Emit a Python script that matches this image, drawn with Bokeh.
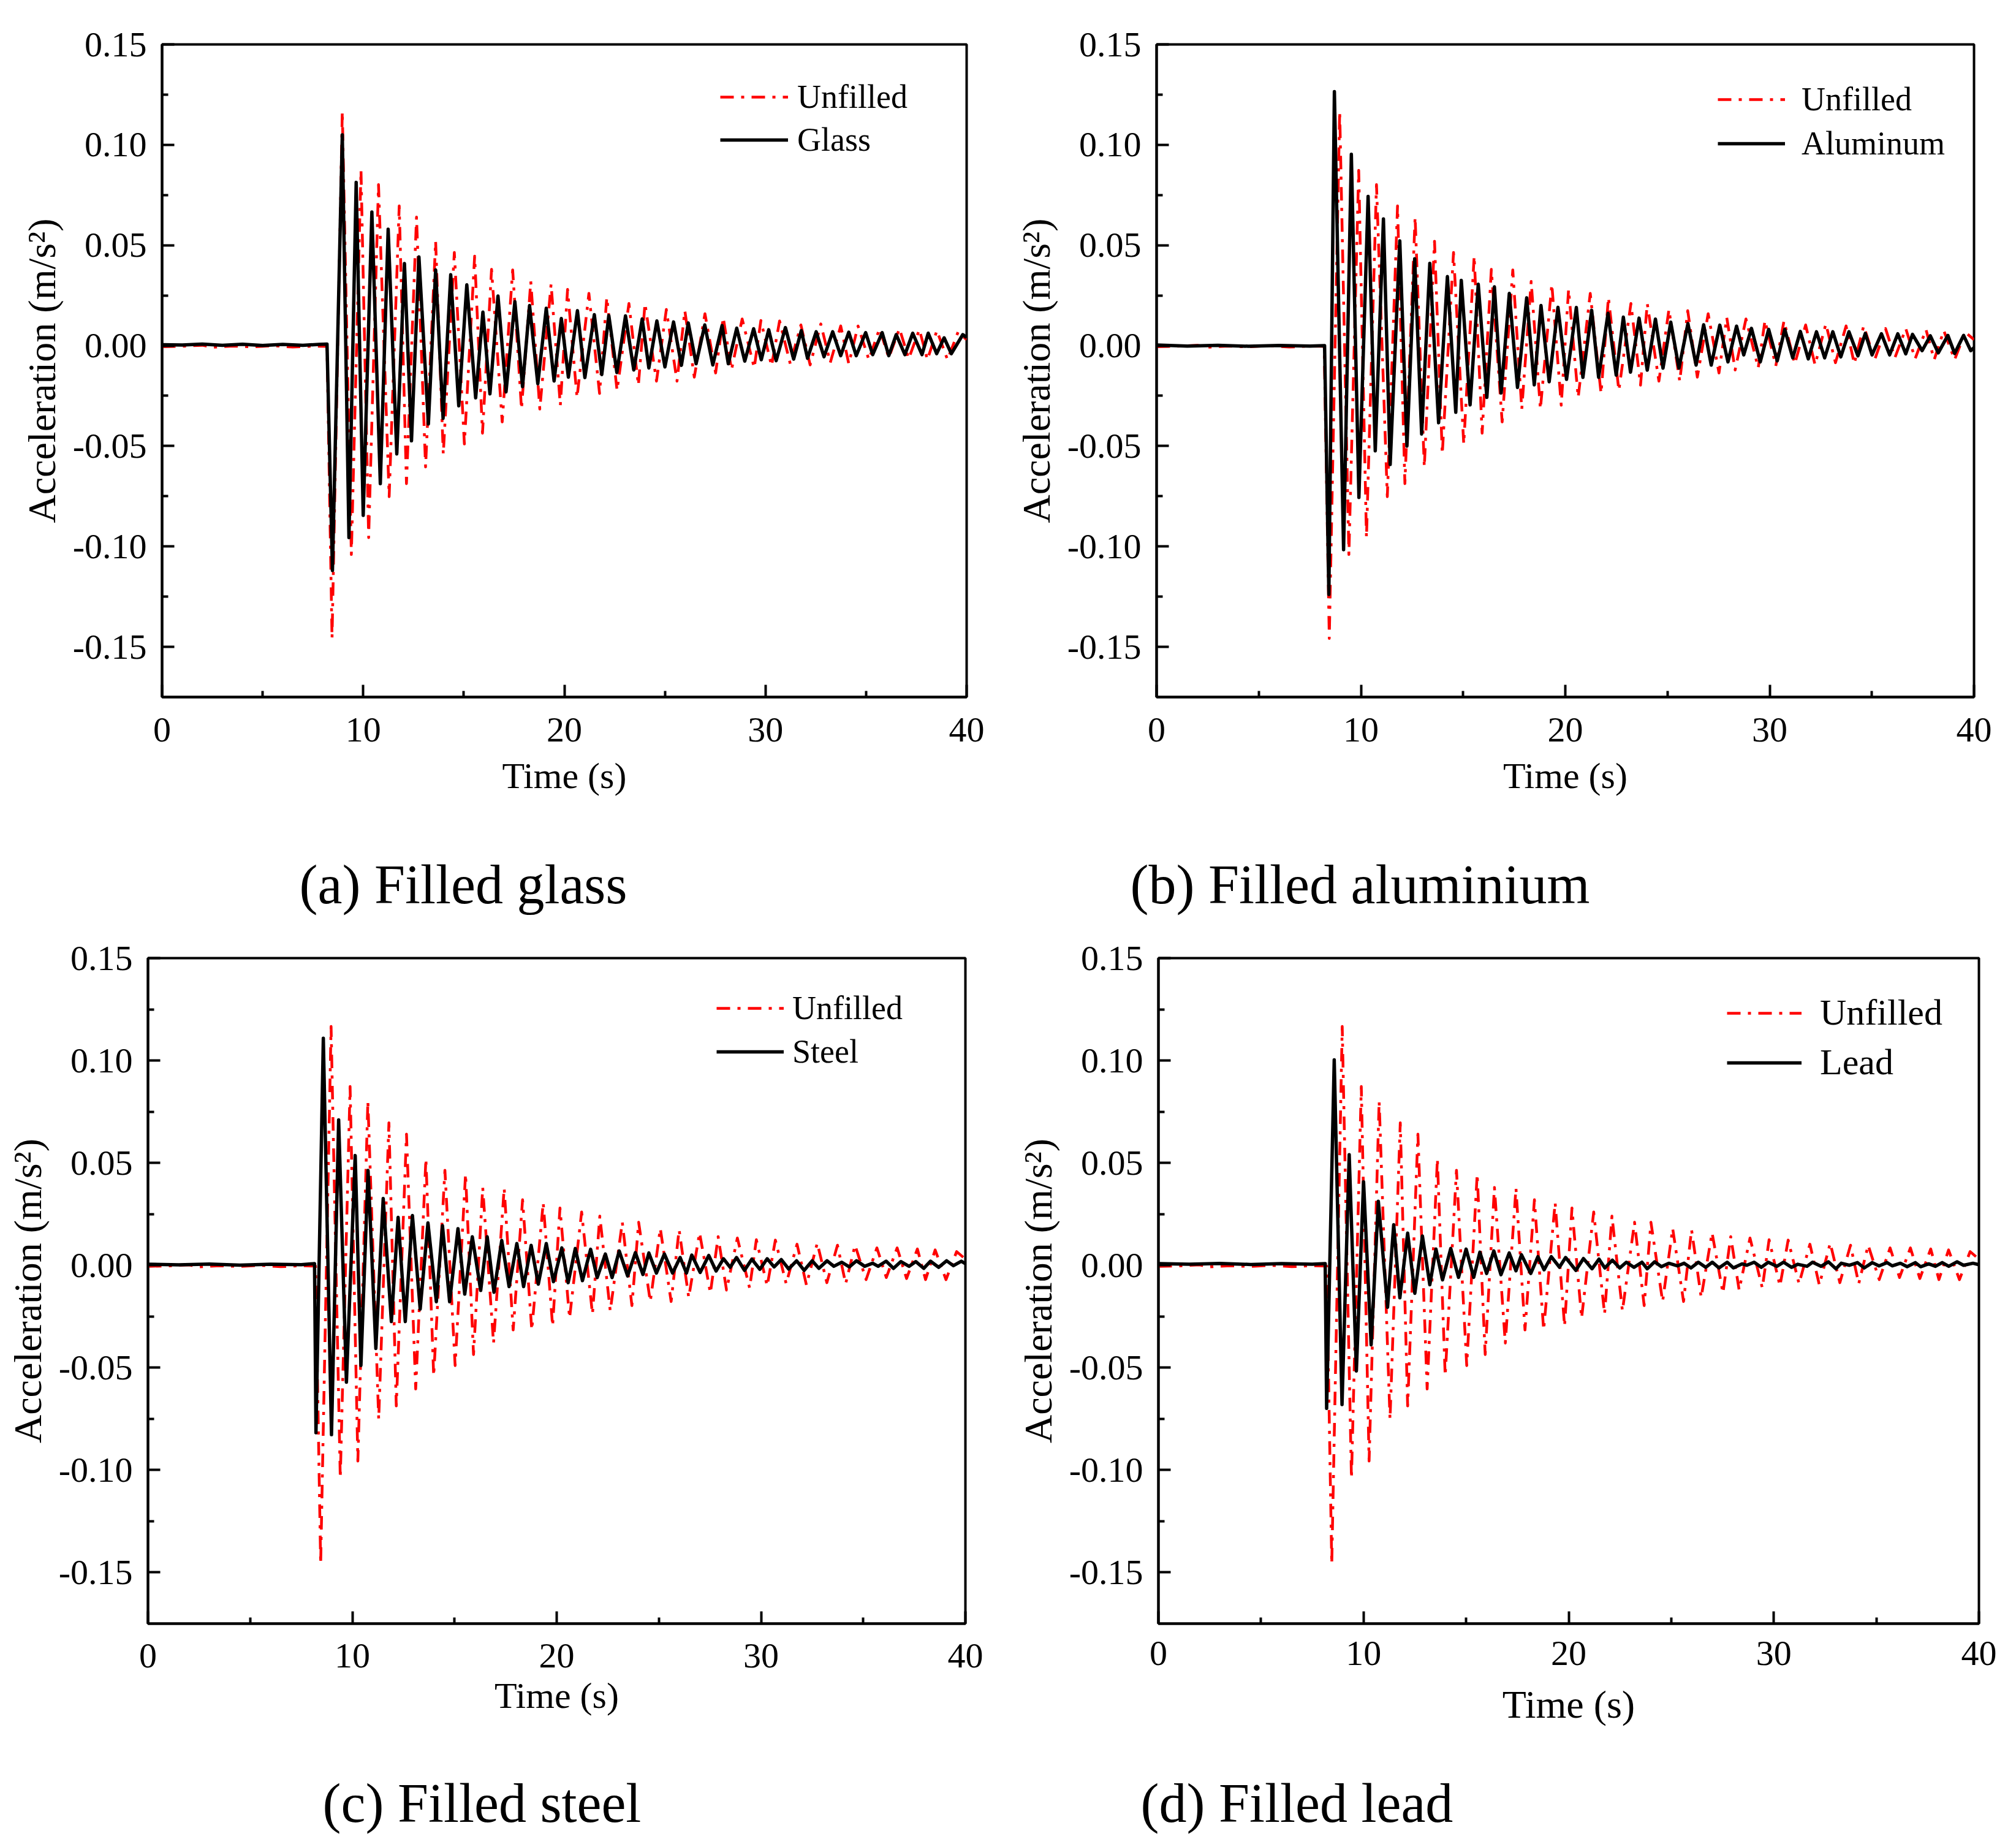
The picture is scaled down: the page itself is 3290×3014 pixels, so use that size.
from bokeh.plotting import figure
from bokeh.models import Range1d, FixedTicker, Legend, LegendItem, Label, NumeralTickFormatter
from bokeh.layouts import row, column
from bokeh.embed import file_html
from bokeh.resources import INLINE

# ---------------- data (extrema) ----------------
unfilled_t = [0, 1, 2, 2.5, 3.5, 4.5, 5.5, 6.5, 7.5, 8.2,
              8.45, 8.96, 9.41, 9.89, 10.27, 10.76, 11.29, 11.79, 12.15, 12.65, 13.1, 13.6,
              13.98, 14.53, 15.03, 15.54, 15.93, 16.38, 16.91, 17.43, 17.87, 18.33, 18.78,
              19.34, 19.8, 20.16, 20.63, 21.22, 21.75, 22.11, 22.62, 23.21, 23.68, 24.01,
              24.58, 25.07, 25.6, 25.99, 26.46, 26.99, 27.52, 27.9, 28.31, 28.84, 29.44,
              29.77, 30.3, 30.7, 31.23, 31.76, 32.22, 32.75, 33.22, 33.74, 34.14, 34.6,
              35.14, 35.67, 36.13, 36.66, 37.12, 37.65, 38.05, 38.52, 39.05, 39.57, 40]
unfilled_a = [-0.0005, -0.0003, 0.0002, -0.0008, -0.0002, -0.0006, 0.0, -0.0007, -0.0002, -0.0004,
              -0.1458, 0.1166, -0.104, 0.0873, -0.0956, 0.0802, -0.0752, 0.0696, -0.0687, 0.064, -0.0604, 0.052,
              -0.054, 0.0464, -0.049, 0.0446, -0.0436, 0.038, -0.038, 0.0377, -0.0316, 0.032, -0.0316,
              0.0306, -0.0297, 0.028, -0.0258, 0.026, -0.0238, 0.024, -0.0223, 0.021, -0.0197, 0.021,
              -0.0177, 0.018, -0.0177, 0.0174, -0.0157, 0.0159, -0.0136, 0.014, -0.0121, 0.0133, -0.0111,
              0.0125, -0.0101, 0.0123, -0.009, 0.0103, -0.0096, 0.0108, -0.0085, 0.0098, -0.009, 0.0098,
              -0.007, 0.0085, -0.006, 0.0085, -0.0065, 0.008, -0.007, 0.0075, -0.007, 0.0067, 0.003]

glass_t = [0, 1, 2, 3, 4, 5, 6, 7, 7.8, 8.2,
           8.47, 8.96, 9.29, 9.65, 10.0, 10.43, 10.85, 11.24, 11.67, 12.05, 12.4, 12.77, 13.24,
           13.6, 13.97, 14.35, 14.75, 15.15, 15.59, 15.95, 16.3, 16.7, 17.1, 17.54, 17.92, 18.27,
           18.68, 19.1, 19.49, 19.85, 20.2, 20.65, 21.02, 21.49, 21.86, 22.21, 22.61, 23.04, 23.45,
           23.87, 24.2, 24.6, 25.0, 25.43, 25.82, 26.16, 26.55, 26.98, 27.38, 27.84, 28.15, 28.57,
           28.97, 29.41, 29.79, 30.16, 30.53, 30.99, 31.4, 31.78, 32.09, 32.52, 32.91, 33.34, 33.74,
           34.14, 34.51, 34.98, 35.33, 35.8, 36.13, 36.5, 36.93, 37.32, 37.78, 38.09, 38.51, 38.88,
           39.24, 39.81, 40]
glass_a = [0.0005, 0.0003, 0.0008, 0.0002, 0.0007, 0.0001, 0.0006, 0.0002, 0.0006, 0.0008,
           -0.112, 0.105, -0.0956, 0.0813, -0.0845, 0.0665, -0.0687, 0.058, -0.0539, 0.0409, -0.0474, 0.0442, -0.039,
           0.0377, -0.0362, 0.0353, -0.030, 0.0303, -0.026, 0.0167, -0.024, 0.0247, -0.023, 0.0219, -0.0204, 0.020,
           -0.019, 0.0186, -0.0176, 0.0135, -0.0157, 0.0174, -0.0159, 0.0154, -0.0144, 0.015, -0.0134, 0.0148, -0.0121,
           0.0133, -0.0111, 0.0123, -0.0106, 0.0118, -0.0098, 0.0113, -0.009, 0.0103, -0.0096, 0.01, -0.009, 0.0087,
           -0.0077, 0.0084, -0.007, 0.0079, -0.0075, 0.009, -0.0067, 0.0075, -0.0063, 0.0069, -0.0055, 0.0069, -0.005,
           0.0067, -0.005, 0.0065, -0.0045, 0.0065, -0.005, 0.0055, -0.0045, 0.0062, -0.0045, 0.0062, -0.004, 0.0039,
           -0.004, 0.0055, 0.004]

aluminum_t = [0, 1.5, 3, 4.5, 6, 7.5, 8.22,
              8.43, 8.70, 9.15, 9.53, 9.9, 10.35, 10.7, 11.1, 11.43, 11.9, 12.25, 12.63, 12.97, 13.37,
              13.8, 14.23, 14.64, 14.91, 15.34, 15.74, 16.16, 16.53, 16.86, 17.26, 17.66, 18.11, 18.48,
              18.81, 19.21, 19.64, 20.06, 20.54, 20.86, 21.29, 21.63, 22.09, 22.49, 22.84, 23.19, 23.61,
              24.01, 24.41, 24.78, 25.16, 25.56, 26.0, 26.4, 26.77, 27.14, 27.56, 27.96, 28.38, 28.73,
              29.11, 29.54, 29.95, 30.37, 30.74, 31.13, 31.5, 31.89, 32.29, 32.69, 33.09, 33.48, 33.88,
              34.32, 34.68, 35.01, 35.47, 35.87, 36.27, 36.66, 36.99, 37.46, 37.86, 38.25, 38.72, 39.05,
              39.49, 39.84, 40]
aluminum_a = [0.0003, -0.0002, 0.0002, -0.0003, 0.0001, -0.0002, 0.0,
              -0.1239, 0.1265, -0.1016, 0.0953, -0.0756, 0.0743, -0.0524, 0.0631, -0.0592, 0.0522, -0.05, 0.0433, -0.044, 0.041,
              -0.0384, 0.0344, -0.0332, 0.0325, -0.0295, 0.0306, -0.0258, 0.0293, -0.0236, 0.026, -0.0208, 0.0238, -0.0195,
              0.02, -0.018, 0.0191, -0.0168, 0.019, -0.0158, 0.0176, -0.0158, 0.0161, -0.0147, 0.0142, -0.0132, 0.0137,
              -0.0122, 0.0132, -0.0112, 0.0117, -0.0112, 0.011, -0.0097, 0.0104, -0.0097, 0.0102, -0.0081, 0.0097, -0.0046,
              0.0086, -0.0081, 0.0081, -0.0076, 0.0081, -0.0061, 0.0071, -0.0066, 0.0069, -0.0061, 0.0069, -0.0056, 0.0069,
              -0.0051, 0.0061, -0.0046, 0.0059, -0.0046, 0.0059, -0.0041, 0.0056, -0.0025, 0.0049, -0.0036, 0.0051, -0.0039,
              0.0051, -0.0025, -0.001]

steel_t = [0, 1.5, 3, 4.5, 6, 7.5, 8.15,
           8.22, 8.58, 8.98, 9.33, 9.71, 10.14, 10.42, 10.77, 11.15, 11.51, 11.91, 12.24, 12.59, 12.94,
           13.32, 13.7, 14.11, 14.41, 14.76, 15.17, 15.5, 15.87, 16.28, 16.6, 16.93, 17.31, 17.67, 18.05,
           18.38, 18.75, 19.1, 19.49, 19.84, 20.25, 20.56, 20.91, 21.26, 21.66, 21.98, 22.38, 22.71, 23.06,
           23.47, 23.85, 24.22, 24.51, 24.88, 25.27, 25.67, 26.04, 26.35, 26.61, 27.02, 27.44, 27.8, 28.16,
           28.49, 28.8, 29.19, 29.55, 29.94, 30.3, 30.64, 30.99, 31.35, 31.74, 32.11, 32.5, 32.83, 33.23,
           33.56, 33.95, 34.32, 34.67, 35.07, 35.46, 35.73, 36.12, 36.48, 36.84, 37.24, 37.57, 37.96, 38.29,
           38.69, 39.08, 39.41, 39.8, 40]
steel_a = [0.0005, 0.0002, 0.0006, 0.0001, 0.0005, 0.0003, 0.0008,
           -0.0818, 0.1109, -0.0827, 0.071, -0.0571, 0.0536, -0.0489, 0.0463, -0.0406, 0.0326, -0.0275, 0.0234, -0.0275, 0.0243,
           -0.0214, 0.0207, -0.0178, 0.0194, -0.0178, 0.0179, -0.0141, 0.0139, -0.0123, 0.0139, -0.0132, 0.0121, -0.0104, 0.0106,
           -0.0104, 0.0097, -0.0092, 0.0106, -0.008, 0.0085, -0.0085, 0.0082, -0.0075, 0.0078, -0.006, 0.0055, -0.006, 0.007,
           -0.0052, 0.0062, -0.0045, 0.006, -0.0038, 0.0055, -0.0038, 0.0038, -0.0038, 0.005, -0.0035, 0.0048, -0.0028, 0.0032,
           -0.001, 0.0038, -0.0025, 0.003, -0.002, 0.0032, -0.0008, 0.0028, -0.0018, 0.0022, -0.0025, 0.0022, -0.0015, 0.0022,
           -0.0005, 0.0015, -0.0008, 0.0022, -0.0005, 0.001, -0.0005, 0.002, -0.0015, 0.0018, -0.0005, 0.0018, -0.0015, 0.002,
           -0.001, 0.0022, -0.0002, 0.002, 0.0008]

lead_t = [0, 1.5, 3, 4.5, 6, 7.5, 8.13,
          8.2, 8.57, 8.95, 9.3, 9.65, 10.0, 10.37, 10.72, 11.17, 11.47, 11.77, 12.15, 12.5, 12.87,
          13.23, 13.53, 13.85, 14.25, 14.63, 15.0, 15.37, 15.67, 16.0, 16.35, 16.7, 17.1, 17.43, 17.7,
          18.15, 18.5, 18.8, 19.15, 19.55, 19.85, 20.35, 20.72, 21.14, 21.48, 21.76, 22.13, 22.49, 22.81,
          23.18, 23.57, 23.83, 24.19, 24.52, 24.88, 25.3, 25.63, 25.96, 26.32, 26.68, 27.0, 27.33, 27.73,
          28.03, 28.45, 28.68, 29.04, 29.39, 29.73, 30.15, 30.48, 30.87, 31.17, 31.62, 31.89, 32.31, 32.66,
          33.03, 33.29, 33.69, 34.08, 34.41, 34.8, 35.13, 35.52, 35.78, 36.17, 36.5, 36.9, 37.16, 37.55,
          37.88, 38.21, 38.53, 38.93, 39.25, 39.71, 40]
lead_a = [0.0008, 0.0005, 0.0009, 0.0004, 0.0008, 0.0005, 0.0008,
          -0.0699, 0.1003, -0.068, 0.054, -0.0516, 0.0408, -0.0388, 0.0313, -0.0205, 0.0198, -0.0159, 0.0157, -0.0137, 0.0143,
          -0.0095, 0.0079, -0.0071, 0.0082, -0.0059, 0.0079, -0.0059, 0.0064, -0.004, 0.007, -0.0046, 0.006, -0.0027, 0.0051,
          -0.004, 0.0042, -0.0022, 0.0042, -0.0009, 0.0038, -0.0025, 0.0033, -0.0017, 0.003, -0.0013, 0.0025, -0.0013, 0.0015,
          -0.001, 0.0015, -0.0017, 0.0017, -0.0007, 0.001, -0.0003, 0.001, -0.0013, 0.0015, -0.001, 0.0015, -0.0013, 0.0015,
          -0.0013, 0.0007, 0.0, 0.0015, -0.001, 0.0015, -0.0005, 0.0015, -0.001, 0.0005, -0.0005, 0.0015, -0.0005, 0.0017,
          -0.0017, 0.001, 0.0, 0.0013, -0.0013, 0.0013, -0.0003, 0.0013, -0.0003, 0.001, -0.0007, 0.0013, -0.0007, 0.0007,
          -0.0005, 0.0013, -0.0005, 0.0017, 0.0, 0.001, 0.0003]

x_major = [0, 10, 20, 30, 40]
x_minor = [5, 15, 25, 35]
y_major = [-0.15, -0.10, -0.05, 0.0, 0.05, 0.10, 0.15]
y_minor = [-0.125, -0.075, -0.025, 0.025, 0.075, 0.125]

captions = ["(a) Filled glass", "(b) Filled aluminium", "(c) Filled steel", "(d) Filled lead"]
materials = ["Glass", "Aluminum", "Steel", "Lead"]

FONT = "Liberation Serif"


def make_panel(mat_name, mat_t, mat_a, c):
    p = figure(frame_width=c["fw"], frame_height=c["fh"],
               min_border_left=c["bl"], min_border_right=c["br"],
               min_border_top=c["bt"], min_border_bottom=c["bb"],
               x_range=Range1d(0, 40), y_range=Range1d(-0.175, 0.15),
               output_backend="svg", toolbar_location=None)
    p.background_fill_color = "white"
    p.border_fill_color = "white"
    p.outline_line_color = "black"
    p.outline_line_width = 4
    p.xgrid.visible = False
    p.ygrid.visible = False

    p.xaxis.ticker = FixedTicker(ticks=x_major, minor_ticks=x_minor)
    p.yaxis.ticker = FixedTicker(ticks=y_major, minor_ticks=y_minor)
    p.yaxis.formatter = NumeralTickFormatter(format="0.00")
    for ax in (p.xaxis[0], p.yaxis[0]):
        ax.axis_line_width = 4
        ax.major_tick_line_width = 4
        ax.minor_tick_line_width = 4
        ax.major_tick_in = 20
        ax.major_tick_out = 0
        ax.minor_tick_in = 10
        ax.minor_tick_out = 0
        ax.major_label_text_font = FONT
        ax.major_label_text_font_size = "58px"
        ax.major_label_text_color = "black"
        ax.axis_label_text_font = FONT
        ax.axis_label_text_font_style = "normal"
        ax.axis_label_text_color = "black"
    p.xaxis.axis_label = "Time (s)"
    p.xaxis.axis_label_text_font_size = c["xlab"]
    p.xaxis.major_label_standoff = c["xstand"]
    p.xaxis.axis_label_standoff = c["xlstand"]
    p.yaxis.axis_label = "Acceleration (m/s²)"
    p.yaxis.axis_label_text_font_size = "64px"
    p.yaxis.major_label_standoff = 25
    p.yaxis.axis_label_standoff = 12

    r_un = p.line(unfilled_t, unfilled_a, line_color="#ff0000", line_width=4.5,
                  line_dash="22 12 5 12", line_join="round")
    r_mat = p.line(mat_t, mat_a, line_color="black", line_width=5.5, line_join="round")

    leg = Legend(items=[LegendItem(label="Unfilled", renderers=[r_un]),
                        LegendItem(label=mat_name, renderers=[r_mat])],
                 location=c["legloc"], orientation="vertical",
                 glyph_width=c["gw"], glyph_height=c["ih"], label_height=c["ih"],
                 label_standoff=c["ls"], spacing=c["sp"], padding=0, margin=0,
                 label_text_font=FONT, label_text_font_size=c["lfs"],
                 label_text_color="black",
                 border_line_alpha=0, background_fill_alpha=0)
    p.add_layout(leg, "center")
    return p


def make_caption(text, width, height, x, y):
    p = figure(width=width, height=height, min_border=0, min_border_left=0, min_border_right=0,
               min_border_top=0, min_border_bottom=0,
               x_range=Range1d(0, 1), y_range=Range1d(0, 1),
               x_axis_type=None, y_axis_type=None,
               output_backend="svg", toolbar_location=None)
    p.outline_line_color = None
    p.background_fill_color = "white"
    p.border_fill_color = "white"
    p.xgrid.visible = False
    p.ygrid.visible = False
    p.add_layout(Label(x=x, y=y, x_units="screen", y_units="screen", text=text,
                       text_align="left", text_baseline="middle",
                       text_font=FONT, text_font_size="90px", text_font_style="normal",
                       text_color="black"))
    return p


cfg_a = dict(fw=1313, fh=1065, bl=264, br=63, bt=72, bb=195, xlab="60px", xstand=34, xlstand=20,
             legloc=(911, 878), gw=111, ih=60, ls=15, sp=8, lfs="54px")
cfg_b = dict(fw=1334, fh=1065, bl=247, br=49, bt=72, bb=195, xlab="60px", xstand=34, xlstand=20,
             legloc=(916, 872), gw=110, ih=60, ls=27, sp=10, lfs="54px")
cfg_c = dict(fw=1334, fh=1086, bl=241, br=65, bt=41, bb=200, xlab="60px", xstand=33, xlstand=10,
             legloc=(928, 902), gw=110, ih=60, ls=14, sp=9, lfs="54px")
cfg_d = dict(fw=1339, fh=1086, bl=250, br=41, bt=37, bb=204, xlab="64px", xstand=29, xlstand=26,
             legloc=(928, 881), gw=122, ih=64, ls=30, sp=12, lfs="60px")

pa = make_panel(materials[0], glass_t, glass_a, cfg_a)
pb = make_panel(materials[1], aluminum_t, aluminum_a, cfg_b)
pc = make_panel(materials[2], steel_t, steel_a, cfg_c)
pd = make_panel(materials[3], lead_t, lead_a, cfg_d)

cap_a = make_caption(captions[0], 1640, 190, 488, 79)
cap_b = make_caption(captions[1], 1630, 190, 204, 79)
cap_c = make_caption(captions[2], 1640, 147, 526, 54)
cap_d = make_caption(captions[3], 1630, 147, 221, 54)

layout = column(row(pa, pb), row(cap_a, cap_b), row(pc, pd), row(cap_c, cap_d))
open("out.html", "w").write(file_html(layout, INLINE))
